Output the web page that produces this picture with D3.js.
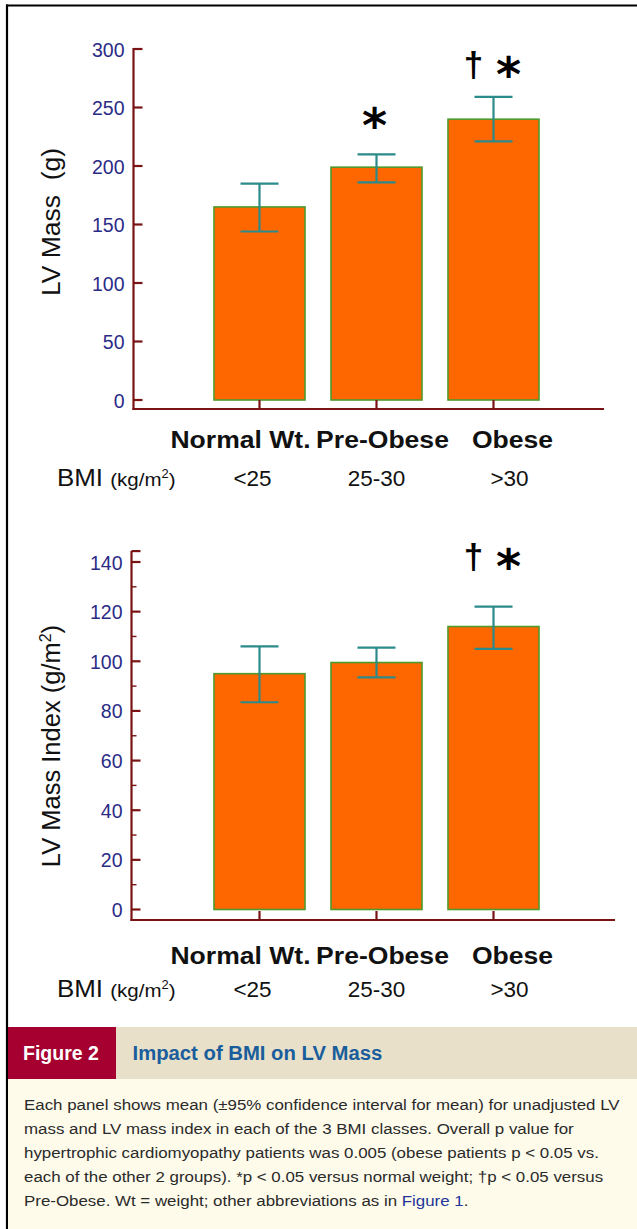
<!DOCTYPE html>
<html>
<head>
<meta charset="utf-8">
<script src="https://cdn.jsdelivr.net/npm/d3@7"></script>
<style>
  html, body { margin: 0; padding: 0; background: #fff; }
  svg { display: block; }
  text { font-family: "Liberation Sans", Arial, sans-serif; }
</style>
</head>
<body>
<svg id="fig" width="637" height="1229"></svg>
<script>
// ---- data ----
const groups = ["Normal Wt.", "Pre-Obese", "Obese"];
const bmiRanges = ["<25", "25-30", ">30"];

const lvMass = [165, 199, 240];
const lvMassLow = [144, 186, 221];
const lvMassHigh = [185, 210, 259];
const lvMassMarks = ["", "*", "†*"];
const lvMassTicks = [0, 50, 100, 150, 200, 250, 300];

const lvmi = [95, 99.5, 114];
const lvmiLow = [83.5, 93.5, 105];
const lvmiHigh = [106, 105.5, 122];
const lvmiMarks = ["", "", "†*"];
const lvmiTicks = [0, 20, 40, 60, 80, 100, 120, 140];
const lvmiMinor = [10, 30, 50, 70, 90, 110, 130];

const captionLines = [
  "Each panel shows mean (±95% confidence interval for mean) for unadjusted LV",
  "mass and LV mass index in each of the 3 BMI classes. Overall p value for",
  "hypertrophic cardiomyopathy patients was 0.005 (obese patients p < 0.05 vs.",
  "each of the other 2 groups). *p < 0.05 versus normal weight; †p < 0.05 versus",
  "Pre-Obese. Wt = weight; other abbreviations as in |Figure 1|."
];

// ---- styles ----
const AXIS = "#7a1414";
const TICK_TXT = "#2b2b86";
const BAR_FILL = "#fe6600";
const BAR_EDGE = "#4f9a2c";
const ERR = "#2b8a8a";

const svg = d3.select("#fig");

// place a text at (x, y) with a horizontal widening factor
function placeWide(sel, px, py, sx) {
  return sel.attr("x", 0).attr("y", 0)
    .attr("transform", `translate(${px},${py}) scale(${sx},1)`);
}

// outer frame (top and left rules)
svg.append("line").attr("x1", 6).attr("x2", 637).attr("y1", 5.5).attr("y2", 5.5)
  .attr("stroke", "#000").attr("stroke-width", 2.2);
svg.append("line").attr("x1", 7).attr("x2", 7).attr("y1", 4.5).attr("y2", 1229)
  .attr("stroke", "#000").attr("stroke-width", 2.2);

// shared band scale for the three BMI classes
const x = d3.scaleBand().domain(groups).range([201, 552])
  .paddingInner(0.222).paddingOuter(0.111);
const cx = d => x(d) + x.bandwidth() / 2;

const nameShift = [-19, 6, 19];
const rangeShift = [-7, 0, 16];

function panel(cfg) {
  const g = svg.append("g");
  const y = d3.scaleLinear().domain([0, cfg.top]).range([cfg.y0, cfg.yTop]);

  // bars
  g.selectAll("rect.bar").data(groups).join("rect")
    .attr("class", "bar")
    .attr("x", d => x(d))
    .attr("width", x.bandwidth())
    .attr("y", (d, i) => y(cfg.values[i]))
    .attr("height", (d, i) => y(0) - y(cfg.values[i]))
    .attr("fill", BAR_FILL)
    .attr("stroke", BAR_EDGE)
    .attr("stroke-width", 1.6);

  // 95% CI whiskers
  const cap = 19;
  const eb = g.selectAll("g.err").data(groups).join("g").attr("class", "err")
    .attr("stroke", ERR).attr("stroke-width", 2.2);
  eb.append("line")
    .attr("x1", cx).attr("x2", cx)
    .attr("y1", (d, i) => y(cfg.low[i])).attr("y2", (d, i) => y(cfg.high[i]));
  eb.append("line")
    .attr("x1", d => cx(d) - cap).attr("x2", d => cx(d) + cap)
    .attr("y1", (d, i) => y(cfg.high[i])).attr("y2", (d, i) => y(cfg.high[i]));
  eb.append("line")
    .attr("x1", d => cx(d) - cap).attr("x2", d => cx(d) + cap)
    .attr("y1", (d, i) => y(cfg.low[i])).attr("y2", (d, i) => y(cfg.low[i]));

  // significance marks
  groups.forEach((d, i) => {
    const m = cfg.marks[i];
    if (!m) return;
    const my = cfg.markRow[i];
    const both = m.includes("†");
    if (both) {
      g.append("text").attr("x", cx(d) - 20).attr("y", my + 11)
        .attr("text-anchor", "middle").attr("font-size", 35).attr("font-weight", "bold")
        .attr("fill", "#000").text("†");
    }
    if (m.includes("*")) {
      g.append("text").attr("x", both ? cx(d) + 15 : cx(d) - 2).attr("y", my + 25)
        .attr("text-anchor", "middle").attr("font-size", 48).attr("font-weight", "bold")
        .style("font-family", "'DejaVu Sans', sans-serif")
        .attr("fill", "#000").text("*");
    }
  });

  // y axis
  const yAxis = d3.axisLeft(y).tickValues(cfg.ticks).tickSize(0).tickPadding(9);
  const ya = g.append("g").attr("transform", `translate(${cfg.axisX},0)`).call(yAxis);
  ya.select(".domain").remove();
  ya.selectAll("text").attr("fill", TICK_TXT).attr("font-size", 19.5)
    .attr("font-family", "'Liberation Sans', Arial, sans-serif").attr("dy", "0.36em");
  g.append("line").attr("x1", cfg.axisX).attr("x2", cfg.axisX)
    .attr("y1", cfg.yTopEnd).attr("y2", cfg.xAxisY + 1)
    .attr("stroke", AXIS).attr("stroke-width", 2.2);
  // major ticks pointing inward
  g.selectAll("line.maj").data(cfg.ticks.concat(cfg.capTick ? [cfg.capTick] : [])).join("line")
    .attr("x1", cfg.axisX).attr("x2", cfg.axisX + 9)
    .attr("y1", d => y(d)).attr("y2", d => y(d))
    .attr("stroke", AXIS).attr("stroke-width", 2.2);
  g.selectAll("line.min").data(cfg.minor || []).join("line")
    .attr("x1", cfg.axisX).attr("x2", cfg.axisX + 5)
    .attr("y1", d => y(d)).attr("y2", d => y(d))
    .attr("stroke", AXIS).attr("stroke-width", 1.4);

  // x axis with inward category ticks
  g.append("line").attr("x1", cfg.axisX - 1).attr("x2", cfg.xEnd)
    .attr("y1", cfg.xAxisY).attr("y2", cfg.xAxisY)
    .attr("stroke", AXIS).attr("stroke-width", 2.2);
  g.selectAll("line.cat").data(groups).join("line")
    .attr("x1", cx).attr("x2", cx)
    .attr("y1", cfg.xAxisY).attr("y2", cfg.xAxisY - 9)
    .attr("stroke", AXIS).attr("stroke-width", 2.2);

  // y title
  g.append("text")
    .attr("transform", `translate(60,${cfg.titleY}) rotate(-90)`)
    .attr("text-anchor", "middle").attr("font-size", cfg.titleSize).attr("fill", "#111")
    .style("white-space", "pre")
    .html(cfg.title);

  // group names and BMI ranges
  g.selectAll("text.grp").data(groups).join("text")
    .each(function (d, i) { placeWide(d3.select(this), cx(d) + nameShift[i], cfg.nameY, 1.14); })
    .attr("text-anchor", "middle")
    .attr("font-size", 23.3).attr("font-weight", "bold").attr("fill", "#111")
    .text(d => d);
  const bmi = placeWide(g.append("text"), 57, cfg.bmiY, 1.08).attr("fill", "#111");
  bmi.append("tspan").attr("font-size", 24).text("BMI ");
  bmi.append("tspan").attr("font-size", 19).text("(kg/m");
  bmi.append("tspan").attr("font-size", 12).attr("dy", -8).text("2");
  bmi.append("tspan").attr("font-size", 19).attr("dy", 8).text(")");
  g.selectAll("text.rng").data(bmiRanges).join("text")
    .attr("x", (d, i) => cx(groups[i]) + rangeShift[i])
    .attr("y", cfg.bmiY).attr("text-anchor", "middle")
    .attr("font-size", 22.5).attr("fill", "#111")
    .text(d => d);
}

panel({
  top: 300, y0: 400, yTop: 49, yTopEnd: 48, axisX: 133.5, xAxisY: 409, xEnd: 604,
  values: lvMass, low: lvMassLow, high: lvMassHigh, marks: lvMassMarks,
  ticks: lvMassTicks, markRow: [0, 117, 66],
  title: "LV Mass&#160;&#160;(g)", titleSize: 26.5, titleY: 222, nameY: 448, bmiY: 486
});

panel({
  top: 140, y0: 909.5, yTop: 562, yTopEnd: 551, axisX: 131.5, xAxisY: 920, xEnd: 615,
  values: lvmi, low: lvmiLow, high: lvmiHigh, marks: lvmiMarks,
  ticks: lvmiTicks, minor: lvmiMinor, capTick: 144.4, markRow: [0, 0, 558],
  title: "LV Mass Index (g/m<tspan font-size='16' dy='-9'>2</tspan><tspan dy='9'>)</tspan>",
  titleSize: 25.5, titleY: 746, nameY: 964, bmiY: 997
});

// ---- caption block ----
svg.append("rect").attr("x", 8).attr("y", 1027).attr("width", 629).attr("height", 52).attr("fill", "#e8e0c8");
svg.append("rect").attr("x", 8).attr("y", 1027).attr("width", 108).attr("height", 52).attr("fill", "#a50030");
svg.append("rect").attr("x", 8).attr("y", 1079).attr("width", 629).attr("height", 150).attr("fill", "#fefbea");
svg.append("text").attr("x", 23).attr("y", 1059.5).attr("font-size", 19.5).attr("font-weight", "bold")
  .attr("fill", "#fff").text("Figure 2");
svg.append("text").attr("x", 132.5).attr("y", 1059.5).attr("font-size", 20.3).attr("font-weight", "bold")
  .attr("fill", "#1a5d9c").text("Impact of BMI on LV Mass");

const capG = svg.append("g");
captionLines.forEach((ln, i) => {
  const t = placeWide(capG.append("text"), 24, 1110 + i * 24, 1.09)
    .attr("font-size", 15.5).attr("fill", "#2a2a2a").style("white-space", "pre");
  ln.split("|").forEach((part, j) => {
    t.append("tspan").attr("fill", j % 2 ? "#23359a" : "#2a2a2a").text(part);
  });
});
</script>
</body>
</html>
